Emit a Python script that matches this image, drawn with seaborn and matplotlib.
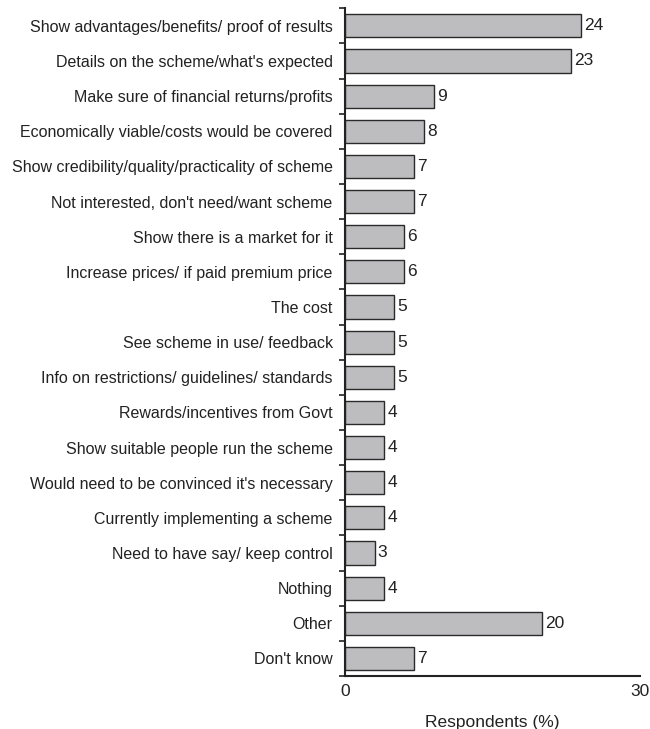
import numpy as np
import pandas as pd
import seaborn as sns
import matplotlib.pyplot as plt
from matplotlib.ticker import FixedLocator

categories = [
    "Show advantages/benefits/ proof of results",
    "Details on the scheme/what's expected",
    "Make sure of financial returns/profits",
    "Economically viable/costs would be covered",
    "Show credibility/quality/practicality of scheme",
    "Not interested, don't need/want scheme",
    "Show there is a market for it",
    "Increase prices/ if paid premium price",
    "The cost",
    "See scheme in use/ feedback",
    "Info on restrictions/ guidelines/ standards",
    "Rewards/incentives from Govt",
    "Show suitable people run the scheme",
    "Would need to be convinced it's necessary",
    "Currently implementing a scheme",
    "Need to have say/ keep control",
    "Nothing",
    "Other",
    "Don't know",
]
values = [24, 23, 9, 8, 7, 7, 6, 6, 5, 5, 5, 4, 4, 4, 4, 3, 4, 20, 7]


def create_plot(df):
    sns.set_style("white")
    plt.rcParams['font.family'] = ['Liberation Sans', 'DejaVu Sans']
    fig = plt.figure(figsize=(6.5, 7.29), dpi=100)
    ax = fig.add_axes([0.531, 0.0727, 0.454, 0.916])
    sns.barplot(data=df, x="value", y="category", orient="h", ax=ax,
                color="#bdbdc0", edgecolor="#2a2a2a", linewidth=1.0,
                width=0.66, saturation=1)
    for i, v in enumerate(df["value"]):
        ax.text(v + 0.3, i, str(v), va="center", ha="left",
                fontsize=12.5, color="#222222")
    n = len(df)
    ax.set_xlim(0, 30)
    ax.set_ylim(n - 0.5, -0.5)
    ax.set_xticks([0, 30])
    ax.set_xticklabels(["0", "30"], fontsize=12.5, color="#222222")
    ax.tick_params(axis="y", which="major", length=0, labelsize=11.5,
                   labelcolor="#222222", pad=9)
    ax.yaxis.set_minor_locator(FixedLocator(np.arange(-0.5, n, 1.0)))
    ax.tick_params(axis="y", which="minor", length=4, width=1.2,
                   color="#222222", left=True)
    ax.tick_params(axis="x", length=4, width=1.2, color="#222222", pad=2)
    ax.set_xlabel("Respondents (%)", fontsize=12.5, color="#222222", labelpad=11)
    ax.set_ylabel("")
    sns.despine(ax=ax, top=True, right=True)
    for s in ["left", "bottom"]:
        ax.spines[s].set_color("#222222")
        ax.spines[s].set_linewidth(1.5)
    return plt.savefig("out.png", dpi=100), plt.close()


def main():
    df = pd.DataFrame({"category": categories, "value": values})
    create_plot(df)


if __name__ == '__main__':
    main()
